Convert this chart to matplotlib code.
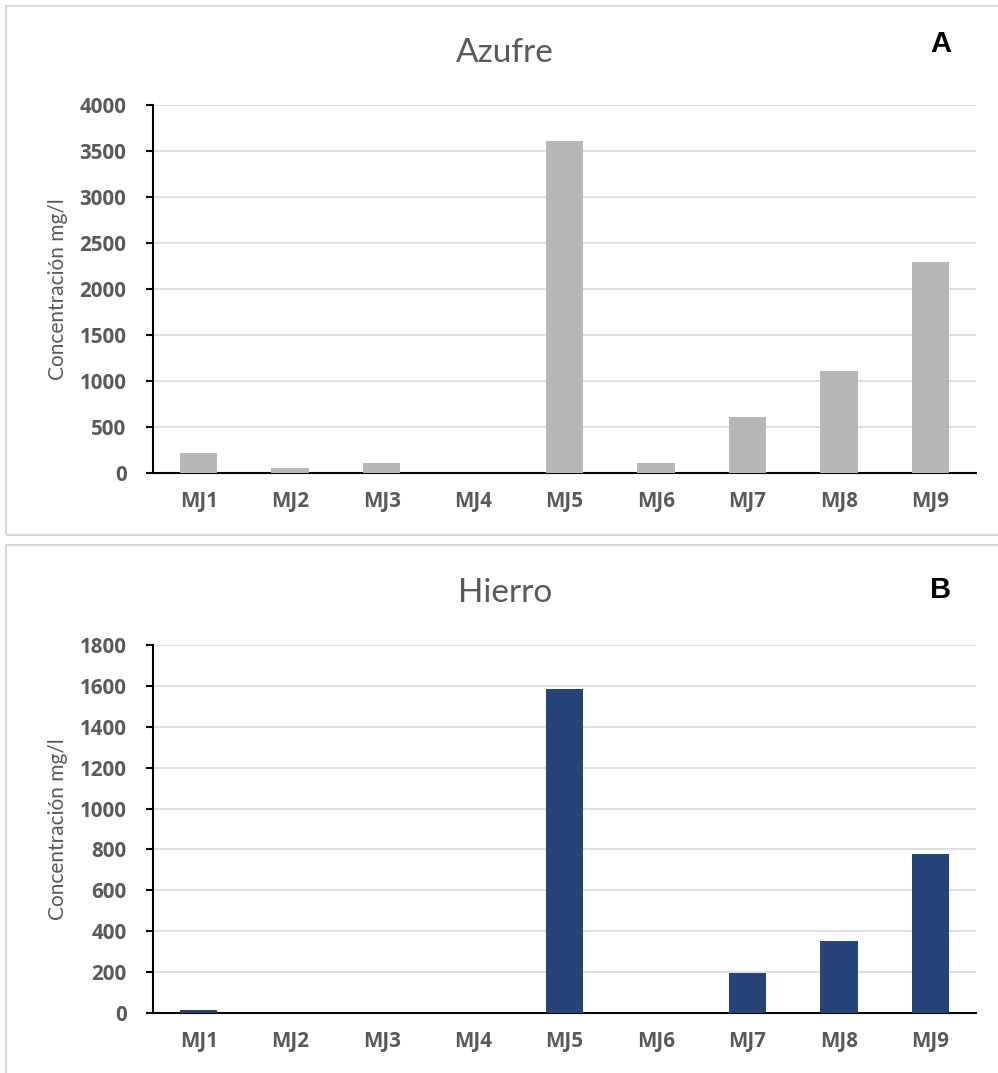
import matplotlib
matplotlib.use("Agg")
import matplotlib.pyplot as plt
from matplotlib.patches import Rectangle

categories = ["MJ1", "MJ2", "MJ3", "MJ4", "MJ5", "MJ6", "MJ7", "MJ8", "MJ9"]
azufre = [215, 52, 110, 5, 3610, 110, 610, 1105, 2290]
hierro = [15, 0, 0, 0, 1585, 0, 195, 350, 780]

W, H = 998, 1073
fig = plt.figure(figsize=(W / 100, H / 100), dpi=100)

grey_txt = "#595959"
grid_c = "#d9d9d9"
FAM = ["Lato", "DejaVu Sans"]
BFAM = ["Open Sans", "DejaVu Sans"]

# panel borders
for (x0, y0, x1, y1) in [(6, 6, 1010, 535), (6, 545, 1010, 1085)]:
    fig.patches.append(Rectangle((x0 / W, 1 - y1 / H), (x1 - x0) / W, (y1 - y0) / H,
                                 transform=fig.transFigure, fill=False,
                                 edgecolor=grid_c, linewidth=1.5))

def make(ax, vals, color, ymax, step, title, letter, ty, ly):
    x = range(len(categories))
    ax.bar(x, vals, width=0.41, color=color, zorder=3)
    ax.set_xlim(-0.5, len(categories) - 0.5)
    ax.set_ylim(0, ymax)
    ax.set_yticks(range(0, ymax + 1, step))
    ax.set_xticks(list(x))
    ax.set_xticklabels(categories)
    ax.yaxis.grid(True, color=grid_c, linewidth=1.2, zorder=0)
    ax.set_axisbelow(True)
    for s in ["top", "right"]:
        ax.spines[s].set_visible(False)
    ax.spines["left"].set_color("black")
    ax.spines["bottom"].set_color("black")
    ax.spines["left"].set_linewidth(1.5)
    ax.spines["bottom"].set_linewidth(1.5)
    ax.tick_params(axis="y", length=5, width=1.5, direction="out", pad=14,
                   labelsize=14.8, labelcolor=grey_txt)
    ax.tick_params(axis="x", length=0, pad=13, labelsize=14.8, labelcolor=grey_txt)
    for lab in ax.get_xticklabels() + ax.get_yticklabels():
        lab.set_fontweight("bold")
        lab.set_family(BFAM)
    ax.set_ylabel("Concentración mg/l", fontsize=15, color=grey_txt, family=FAM)
    ax.yaxis.set_label_coords(-0.103, 0.5)
    fig.text(505 / W, 1 - ty / H, title, ha="center", va="baseline", fontsize=24,
             color=grey_txt, family=FAM)
    fig.text(941 / W, 1 - ly / H, letter, ha="center", va="baseline", fontsize=21,
             color="black", fontweight="bold", family=["Liberation Sans", "DejaVu Sans"])

ax1 = fig.add_axes([153 / W, 1 - 473 / H, (976 - 153) / W, (473 - 105) / H])
make(ax1, azufre, "#b7b7b7", 4000, 500, "Azufre", "A", 62, 52)
ax2 = fig.add_axes([153 / W, 1 - 1013 / H, (976 - 153) / W, (1013 - 645) / H])
make(ax2, hierro, "#264478", 1800, 200, "Hierro", "B", 602, 598)

fig.savefig("out.png", dpi=100)
